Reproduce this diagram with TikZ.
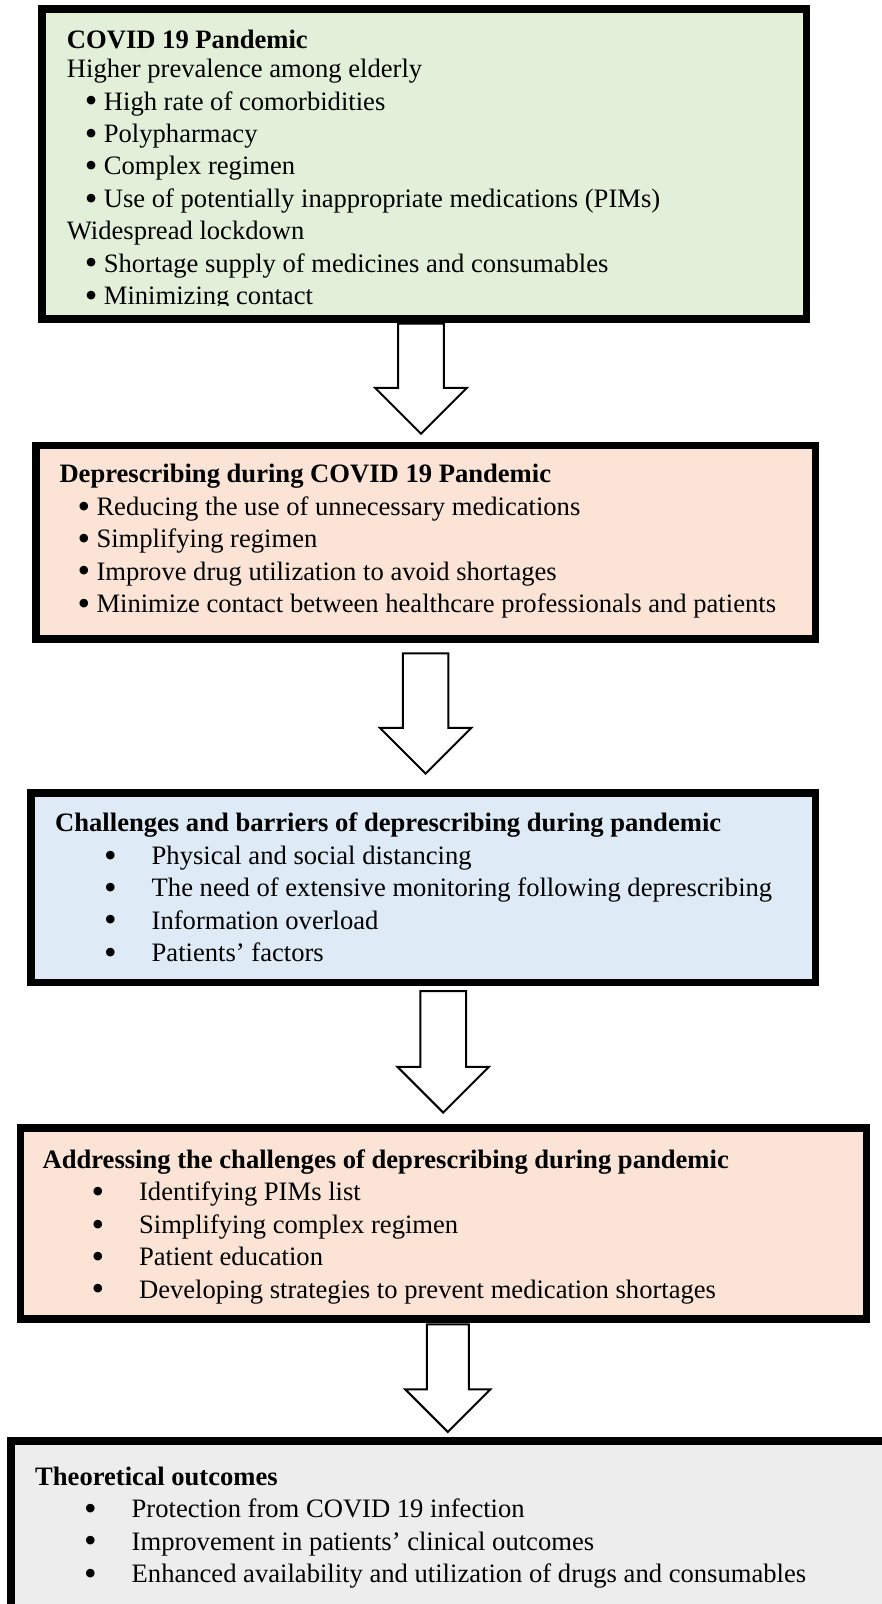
\documentclass[tikz,border=0pt]{standalone}
\usepackage{fontspec}
\setmainfont[Ligatures=CommonOff]{Liberation Serif}
\usepackage{xcolor}
\definecolor{covidgreen}{HTML}{E2EFD9}
\definecolor{peach}{HTML}{FBE4D5}
\definecolor{paleblue}{HTML}{DEEAF6}
\definecolor{palegray}{HTML}{EDEDED}
\usetikzlibrary{shapes.arrows}
\tikzset{
  panel/.style={rectangle,draw=black,line width=7.5pt,outer sep=3.75pt,inner sep=0pt,anchor=north west},
  txt/.style={anchor=north west,inner sep=0pt,align=left,font=\fontsize{26.6}{32.4}\selectfont},
  bigarr/.style={single arrow,draw=black,fill=white,line width=2pt,inner sep=21.8pt,
    single arrow head extend=23pt,single arrow tip angle=90,rotate=-90,anchor=tail,outer sep=0pt},
}
\newcommand{\boxtitle}[1]{\strut\textbf{#1}}
\newcommand{\bigdot}{\raisebox{-2.9pt}{\scalebox{1.35}{\textbullet}}}
\newcommand{\ditem}[1]{\strut\hspace*{18pt}\makebox[19pt][l]{\bigdot}#1}
\newcommand{\witem}[1]{\strut\hspace*{49pt}\makebox[47.5pt][l]{\bigdot}#1}

\begin{document}
\begin{tikzpicture}[x=1pt,y=-1pt]
\clip (0,0) rectangle (882,1604);
\node[panel,fill=covidgreen,minimum width=764.1pt,minimum height=310.2pt] (covid) at (38.4,5) {};
\node[panel,fill=peach,minimum width=779.6pt,minimum height=193.5pt] (depr) at (32.2,441.7) {};
\node[panel,fill=paleblue,minimum width=784.5pt,minimum height=189.2pt] (chall) at (27.3,789.3) {};
\node[panel,fill=peach,minimum width=846.3pt,minimum height=191.2pt] (addr) at (16.5,1124) {};
\node[panel,fill=palegray,minimum width=882.5pt,minimum height=166.2pt] (outc) at (7.3,1437.3) {};

\begin{scope}
\clip (0,0) rectangle (882,305);
\node[txt] (covidtxt) at (66.7,25.6) {\boxtitle{COVID 19 Pandemic}\\[-3.2pt]
  \strut Higher prevalence among elderly\\
  \ditem{High rate of comorbidities}\\
  \ditem{Polypharmacy}\\
  \ditem{Complex regimen}\\
  \ditem{Use of potentially inappropriate medications (PIMs)}\\
  \strut Widespread lockdown\\
  \ditem{Shortage supply of medicines and consumables}\\
  \ditem{Minimizing contact}};
\end{scope}
\node[txt] (deprtxt) at (59.3,460) {\boxtitle{Deprescribing during COVID 19 Pandemic}\\
  \ditem{Reducing the use of unnecessary medications}\\
  \ditem{Simplifying regimen}\\
  \ditem{Improve drug utilization to avoid shortages}\\
  \ditem{Minimize contact between healthcare professionals and patients}};
\node[txt] (challtxt) at (55,809) {\boxtitle{Challenges and barriers of deprescribing during pandemic}\\
  \witem{Physical and social distancing}\\
  \witem{The need of extensive monitoring following deprescribing}\\
  \witem{Information overload}\\
  \witem{Patients’ factors}};
\node[txt] (addrtxt) at (42.4,1145.6) {\boxtitle{Addressing the challenges of deprescribing during pandemic}\\
  \witem{Identifying PIMs list}\\
  \witem{Simplifying complex regimen}\\
  \witem{Patient education}\\
  \witem{Developing strategies to prevent medication shortages}};
\node[txt] (outctxt) at (35,1462.3) {\boxtitle{Theoretical outcomes}\\
  \witem{Protection from COVID 19 infection}\\
  \witem{Improvement in patients’ clinical outcomes}\\
  \witem{Enhanced availability and utilization of drugs and consumables}};

\node[bigarr,minimum height=110pt] (ar1) at (421,323.7) {};
\node[bigarr,minimum height=120.3pt] (ar2) at (425.6,653.3) {};
\node[bigarr,minimum height=121.6pt] (ar3) at (443.2,991) {};
\node[bigarr,minimum height=107.6pt,inner sep=20pt,single arrow head extend=21.5pt] (ar4) at (447.8,1324.3) {};
\end{tikzpicture}
\end{document}
